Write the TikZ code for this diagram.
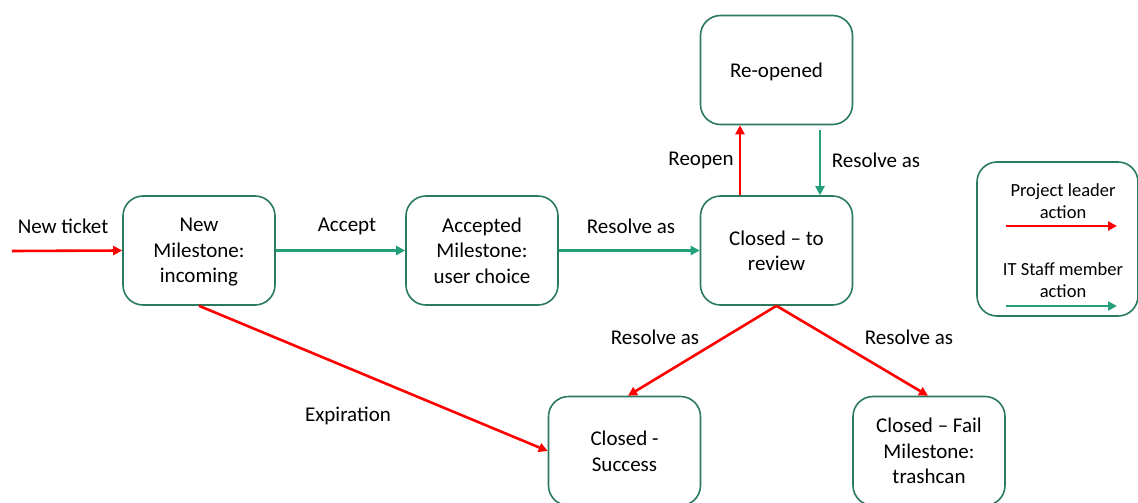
\documentclass[tikz,border=0pt]{standalone}
\usepackage{fontspec}
\setmainfont{Carlito}
\usetikzlibrary{arrows.meta}
\definecolor{boxgreen}{HTML}{2A7A5E}
\definecolor{actgreen}{HTML}{23A07A}
\definecolor{actred}{HTML}{FF0000}
\tikzset{
  state/.style={draw=boxgreen,line width=1.6pt,rounded corners=20pt,minimum width=152pt,minimum height=109pt,inner sep=0pt,text depth=-4pt,align=center},
  lab/.style={inner sep=0pt,align=center},
  keytext/.style={lab,font=\fontsize{18.5}{22}\selectfont},
  leader/.style={draw=actred,line width=2.6pt,-{Triangle[length=9pt,width=9pt]}},
  staff/.style={draw=actgreen,line width=2.6pt,-{Triangle[length=9pt,width=9pt]}}
}
\begin{document}
\begin{tikzpicture}[x=1pt,y=-1pt,font=\fontsize{21}{25.5}\selectfont]
    \useasboundingbox(0,0)rectangle(1138,503);
    % states
    \node[state](new)at(199,250.5){New\\Milestone:\\incoming};
    \node[state](acc)at(482,250.5){Accepted\\Milestone:\\user choice};
    \node[state](rev)at(776.5,250.5){Closed -- to\\review};
    \node[state](reo)at(776.5,70){Re-opened};
    \node[state](suc)at(624.5,451){Closed -\\Success};
    \node[state](fail)at(929,451){Closed -- Fail\\Milestone:\\trashcan};
    % legend
    \node[state,minimum width=161pt,minimum height=154pt](key)at(1057.5,239){};
    \node[keytext](keylead)at(1063,201){Project leader\\action};
    \node[keytext](keystaff)at(1063,280.5){IT Staff member\\action};
    \coordinate(l1)at(1006,226);\coordinate(l2)at(1117,226);
    \coordinate(s1)at(1006,306);\coordinate(s2)at(1117,306);
    \draw[leader](l1)--(l2);
    \draw[staff](s1)--(s2);
    % transitions
    \coordinate(start)at(12,251);
    \draw[leader](start)--(new.west);
    \draw[staff](new.east)--(acc.west);
    \draw[staff](acc.east)--(rev.west);
    \draw[leader]([xshift=-36.5pt]rev.north)--([xshift=-36.5pt]reo.south);
    \draw[staff]([xshift=43.5pt,yshift=-5pt]reo.south)--([xshift=43.5pt]rev.north);
    \draw[leader](rev.south)--([xshift=3.5pt]suc.north);
    \draw[leader](rev.south)--([xshift=-1pt]fail.north);
    \draw[leader](new.south)--(suc.west);
    % labels
    \node[lab](tnew)at(63,226){New ticket};
    \node[lab](tacc)at(347,226){Accept};
    \node[lab](tres1)at(631,226){Resolve as};
    \node[lab](treo)at(701,160){Reopen};
    \node[lab](tres2)at(876,160){Resolve as};
    \node[lab](tres3)at(655,337){Resolve as};
    \node[lab](tres4)at(909,337){Resolve as};
    \node[lab](texp)at(348,416){Expiration};
\end{tikzpicture}
\end{document}
